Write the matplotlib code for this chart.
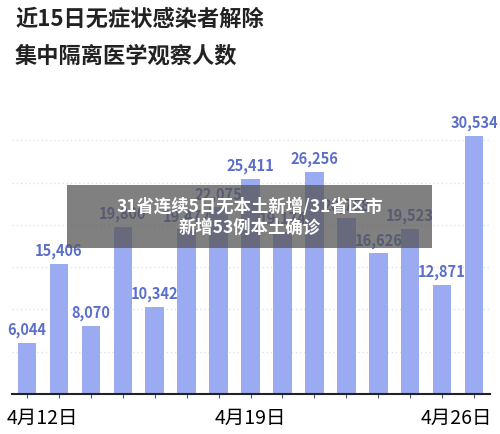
import matplotlib
matplotlib.use("Agg")
import matplotlib.pyplot as plt
from matplotlib.patches import Rectangle

plt.rcParams['font.family'] = ['Noto Sans CJK SC', 'DejaVu Sans']

dates = ["4月12日", "4月13日", "4月14日", "4月15日", "4月16日", "4月17日", "4月18日", "4月19日",
         "4月20日", "4月21日", "4月22日", "4月23日", "4月24日", "4月25日", "4月26日"]
values = [6044, 15406, 8070, 19800, 10342, 19472, 22075, 25411, 19174, 26256, 20768, 16626, 19523, 12871, 30534]
shown_ticks = ["4月12日", "4月19日", "4月26日"]

fig = plt.figure(figsize=(5, 4.35), dpi=100)
fig.patch.set_facecolor('white')
ax = fig.add_axes([0.024, 0.092, 0.956, 0.678])
x = list(range(len(values)))
ax.bar(x, values, width=0.58, color='#9aabf2', zorder=2)
for xi, v in zip(x, values):
    ax.text(xi, v + 700, f"{v:,}", ha='center', va='bottom', color='#5b6fca',
            fontsize=10.5, fontweight='bold', zorder=3)
ax.set_xlim(-0.47, 14.5)
ax.set_ylim(0, 34900)
for g in range(5000, 30001, 5000):
    ax.axhline(g, color='#e2e2e2', lw=1, ls=(0, (1, 2)), zorder=1)
for s in ['top', 'right', 'left']:
    ax.spines[s].set_visible(False)
ax.spines['bottom'].set_color('#222222')
ax.spines['bottom'].set_linewidth(1.5)
ax.set_yticks([])
ax.set_xticks(x)
labels = ax.set_xticklabels([d if d in shown_ticks else "" for d in dates], fontsize=14)
labels[0].set_horizontalalignment('left')
labels[0].set_x(-0.6)
labels[-1].set_horizontalalignment('right')
ax.tick_params(axis='x', length=3, color='#555555', pad=6)
fig.canvas.draw()
# shift first/last labels so they stay inside the figure, like the reference
from matplotlib.transforms import ScaledTranslation
labels[0].set_transform(labels[0].get_transform() + ScaledTranslation(-0.2, 0, fig.dpi_scale_trans))
labels[-1].set_transform(labels[-1].get_transform() + ScaledTranslation(0.18, 0, fig.dpi_scale_trans))

fig.text(0.03, 0.955, "近15日无症状感染者解除", fontsize=16, fontweight='bold', color='#222222', va='center')
fig.text(0.03, 0.872, "集中隔离医学观察人数", fontsize=16, fontweight='bold', color='#222222', va='center')

fig.patches.append(Rectangle((67/500, 1 - 249/435), 365/500, 63/435, transform=fig.transFigure,
                             facecolor='#555555', alpha=0.75, edgecolor='none', zorder=5))
fig.text(0.5, 1 - 217/435, "31省连续5日无本土新增/31省区市\n新增53例本土确诊", ha='center', va='center',
         color='white', fontsize=12.5, fontweight='bold', linespacing=1.2, zorder=6)

fig.savefig("out.png", dpi=100)
